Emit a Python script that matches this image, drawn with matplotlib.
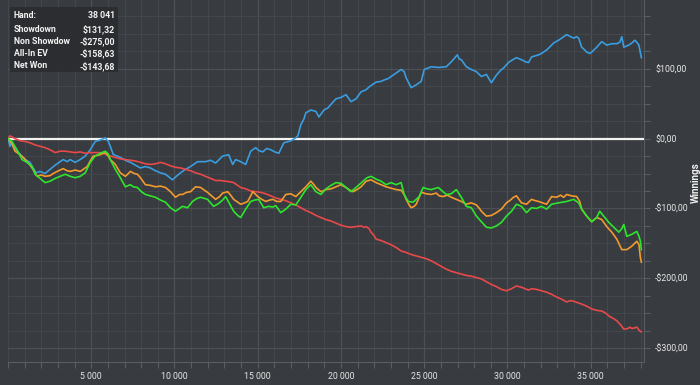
import numpy as np
import matplotlib
matplotlib.use("Agg")
import matplotlib.pyplot as plt
from matplotlib.ticker import FixedLocator, MultipleLocator, FuncFormatter
from matplotlib.patches import Rectangle

plt.rcParams['font.family'] = ['Roboto', 'DejaVu Sans']

# (hands, dollars)
showdown = [
    (0, 0), (120, -11), (241, -5), (422, -15), (723, -22), (1024, -30), (1325, -34), (1506, -42),
    (1687, -49), (1928, -47), (2229, -50), (2530, -44), (2831, -38), (3132, -33), (3313, -30),
    (3554, -33), (3735, -30), (4036, -34), (4337, -30), (4638, -25), (4940, -16), (5241, -4),
    (5542, -2), (5843, 1), (6024, -4), (6144, -11), (6325, -23), (6566, -25), (6747, -27),
    (7048, -31), (7349, -34), (7650, -38), (7952, -42), (8253, -40), (8554, -42), (8855, -46),
    (9156, -49), (9458, -51), (9879, -59), (10060, -55), (10361, -49), (10662, -44), (10964, -40),
    (11385, -33), (11867, -33), (12168, -31), (12470, -35), (12891, -25), (13253, -23),
    (13494, -37), (13675, -30), (13976, -33), (14277, -37), (14578, -18), (14879, -13),
    (15060, -17), (15301, -19), (15542, -14), (15783, -16), (16024, -19), (16265, -21),
    (16566, -6), (16867, -4), (16987, -3), (17289, 1), (17409, 4), (17590, 20), (17771, 28),
    (17891, 37), (18192, 41), (18494, 39), (18674, 31), (18976, 41), (19217, 44), (19397, 49),
    (19698, 57), (20000, 59), (20301, 63), (20602, 53), (20903, 57), (21204, 67), (21506, 70),
    (21686, 74), (21927, 78), (22108, 81), (22409, 82), (22590, 84), (22831, 86), (23011, 89),
    (23313, 94), (23614, 99), (23795, 96), (23915, 87), (24216, 73), (24518, 77), (24819, 82),
    (25000, 99), (25421, 103), (25843, 102), (26324, 103), (26625, 110), (26987, 120),
    (27108, 114), (27228, 113), (27529, 103), (27831, 99), (28132, 96), (28433, 89), (28734, 92),
    (29035, 80), (29336, 91), (29638, 99), (29758, 101), (30060, 109), (30240, 112), (30541, 116),
    (30843, 113), (31084, 110), (31264, 109), (31445, 117), (31866, 120), (32048, 122),
    (32349, 127), (32530, 131), (32771, 137), (33072, 141), (33313, 145), (33554, 149),
    (33795, 146), (33976, 144), (34156, 146), (34276, 144), (34457, 131), (34638, 127),
    (34758, 124), (34939, 122), (35060, 124), (35361, 131), (35662, 139), (35963, 134),
    (36264, 136), (36566, 136), (36746, 138), (36867, 146), (36987, 131), (37288, 134),
    (37469, 137), (37650, 141), (37770, 138), (37891, 134), (37980, 123), (38041, 116),
]

non_showdown = [
    (0, 0), (120, 4), (422, 0), (723, -3), (1024, -4), (1325, -6), (1626, -9), (1928, -11),
    (2229, -13), (2530, -16), (2831, -20), (3132, -18), (3434, -18), (3735, -19), (4036, -20),
    (4337, -19), (4638, -21), (4940, -20), (5241, -20), (5542, -20), (5843, -22), (6144, -25),
    (6446, -27), (6747, -29), (7048, -30), (7349, -31), (7650, -32), (7952, -34), (8253, -36),
    (8554, -37), (8855, -36), (9156, -34), (9458, -36), (9759, -39), (10060, -41), (10361, -42),
    (10662, -44), (10964, -46), (11265, -49), (11566, -51), (11867, -54), (12168, -57),
    (12470, -60), (12771, -60), (13072, -61), (13373, -62), (13554, -63), (13735, -66),
    (13976, -70), (14277, -72), (14578, -75), (14879, -76), (15180, -77), (15482, -79),
    (15783, -82), (16084, -85), (16385, -87), (16686, -89), (16987, -92), (17289, -95),
    (17590, -99), (17891, -103), (18192, -106), (18494, -110), (18795, -113), (19096, -116),
    (19397, -118), (19698, -121), (20000, -124), (20301, -126), (20602, -127), (20903, -126),
    (21204, -125), (21385, -127), (21506, -126), (21686, -129), (21807, -134), (21988, -139),
    (22108, -144), (22409, -146), (22710, -149), (23011, -152), (23313, -156), (23614, -161),
    (23915, -163), (24216, -166), (24518, -168), (24819, -170), (25120, -172), (25421, -175),
    (25722, -179), (26023, -183), (26324, -187), (26625, -190), (26926, -192), (27228, -194),
    (27529, -196), (27831, -197), (28132, -199), (28433, -201), (28734, -205), (29035, -209),
    (29336, -212), (29638, -216), (29939, -218), (30240, -215), (30541, -211), (30843, -213),
    (31264, -217), (31445, -215), (31746, -216), (32048, -218), (32349, -220), (32650, -223),
    (32951, -227), (33253, -230), (33554, -234), (33795, -232), (33976, -233), (34216, -235),
    (34457, -237), (34758, -240), (35060, -244), (35361, -246), (35662, -247), (35903, -250),
    (36084, -254), (36385, -258), (36566, -261), (36807, -267), (36987, -273), (37228, -272),
    (37349, -270), (37469, -272), (37650, -271), (37770, -270), (37920, -275), (38041, -277),
]

allin_ev = [
    (0, 0), (241, -8), (422, -18), (723, -23), (964, -28), (1145, -33), (1325, -38), (1506, -44),
    (1747, -54), (1988, -52), (2229, -54), (2530, -53), (2711, -50), (2952, -47), (3132, -45),
    (3313, -43), (3554, -46), (3735, -47), (4036, -45), (4337, -47), (4578, -43), (4759, -40),
    (4940, -32), (5120, -25), (5361, -24), (5542, -23), (5723, -21), (5843, -20), (6024, -25),
    (6144, -30), (6325, -34), (6446, -37), (6626, -44), (6747, -49), (7048, -54), (7229, -50),
    (7349, -47), (7590, -50), (7771, -51), (7952, -56), (8253, -66), (8554, -67), (8855, -69),
    (9156, -68), (9458, -70), (9759, -76), (10060, -84), (10301, -80), (10482, -80),
    (10723, -77), (10964, -76), (11265, -69), (11566, -70), (11807, -74), (11988, -77),
    (12229, -82), (12470, -87), (12711, -83), (12891, -78), (13193, -76), (13373, -81),
    (13554, -87), (13795, -91), (13976, -94), (14217, -92), (14397, -90), (14578, -82),
    (14699, -76), (14879, -80), (15000, -83), (15241, -87), (15482, -90), (15723, -88),
    (15903, -87), (16144, -90), (16385, -90), (16686, -80), (16987, -79), (17289, -83),
    (17590, -76), (17891, -69), (18072, -64), (18192, -61), (18373, -66), (18494, -70),
    (18795, -76), (19096, -73), (19397, -72), (19698, -69), (20000, -66), (20301, -70),
    (20482, -73), (20722, -76), (20963, -73), (21204, -69), (21506, -61), (21807, -59),
    (22108, -63), (22409, -66), (22710, -69), (23011, -71), (23313, -73), (23614, -74),
    (23795, -80), (23915, -87), (24096, -95), (24216, -99), (24397, -97), (24518, -94),
    (24819, -77), (25120, -79), (25421, -80), (25722, -78), (25903, -82), (26144, -83),
    (26385, -81), (26625, -84), (26926, -87), (27228, -90), (27529, -94), (27831, -92),
    (28132, -95), (28313, -100), (28433, -104), (28734, -111), (29035, -110), (29336, -106),
    (29638, -101), (29939, -92), (30180, -88), (30361, -84), (30541, -82), (30843, -92),
    (31144, -94), (31445, -87), (31686, -89), (31866, -90), (32108, -92), (32349, -94),
    (32650, -83), (32951, -84), (33192, -81), (33373, -84), (33554, -80), (33855, -82),
    (34156, -83), (34337, -90), (34457, -101), (34758, -111), (35060, -119), (35361, -113),
    (35662, -116), (35963, -126), (36264, -134), (36566, -144), (36867, -159), (37168, -159),
    (37469, -154), (37770, -147), (37900, -152), (37980, -170), (38041, -177),
]

net_won = [
    (0, 0), (241, -4), (542, -16), (843, -30), (1145, -34), (1446, -40), (1626, -51), (1928, -57),
    (2229, -63), (2530, -61), (2831, -57), (3132, -54), (3434, -51), (3735, -54), (4036, -56),
    (4337, -54), (4638, -49), (4940, -34), (5241, -25), (5542, -21), (5843, -18), (6024, -22),
    (6144, -30), (6446, -44), (6747, -56), (7048, -69), (7349, -66), (7530, -69), (7771, -70),
    (8012, -76), (8253, -80), (8554, -82), (8855, -84), (9156, -88), (9458, -91), (9759, -99),
    (10060, -104), (10301, -100), (10482, -97), (10783, -99), (11084, -90), (11325, -86),
    (11566, -84), (11988, -87), (12349, -97), (12650, -93), (12891, -88), (13072, -83),
    (13373, -96), (13554, -104), (13795, -110), (13976, -113), (14277, -101), (14578, -90),
    (14819, -88), (15060, -87), (15361, -99), (15662, -97), (15903, -98), (16084, -96),
    (16385, -106), (16686, -101), (16987, -94), (17289, -95), (17590, -84), (17891, -73),
    (18192, -66), (18494, -76), (18795, -80), (19096, -72), (19397, -67), (19698, -63),
    (20000, -64), (20301, -70), (20602, -76), (20903, -70), (21325, -61), (21566, -56),
    (21807, -54), (22108, -58), (22409, -61), (22710, -66), (23011, -63), (23313, -66),
    (23614, -63), (23795, -80), (24036, -90), (24337, -91), (24698, -83), (24939, -70),
    (25180, -72), (25421, -73), (25843, -70), (26324, -80), (26625, -79), (26926, -73),
    (27228, -84), (27529, -97), (27831, -99), (28132, -111), (28433, -119), (28734, -127),
    (29035, -128), (29336, -125), (29638, -120), (29939, -111), (30240, -104), (30541, -94),
    (30843, -97), (31144, -106), (31445, -99), (31746, -100), (32048, -97), (32349, -101),
    (32650, -94), (33072, -92), (33554, -90), (33976, -87), (34276, -92), (34457, -101),
    (34758, -111), (35060, -119), (35361, -113), (35542, -104), (35782, -111), (36084, -120),
    (36385, -127), (36686, -134), (36867, -129), (36987, -123), (37168, -140), (37469, -137),
    (37770, -133), (37900, -140), (37980, -147), (38041, -159),
]

legend_labels = ["Hand:", "Showdown", "Non Showdow", "All-In EV", "Net Won"]
legend_values = ["38 041", "$131,32", "-$275,00", "-$158,63", "-$143,68"]

bg = '#383b3f'
fig = plt.figure(figsize=(7, 3.85), dpi=100, facecolor=bg)
ax = fig.add_axes([8 / 700, 23 / 385, 636 / 700, 362 / 385], facecolor=bg)

series = [
    (showdown, '#3a9de0'),
    (non_showdown, '#e8494a'),
    (allin_ev, '#f39a2e'),
    (net_won, '#2ee52e'),
]
ax.axhline(0, color='#f2f2f2', lw=1.6, zorder=3)
for data, color in series:
    h, v = np.array(data).T
    ax.plot(h, v, color=color, lw=1.2, zorder=4)

ax.set_xlim(0, 38200)
ax.set_ylim(-320, 198.6)

ax.xaxis.set_major_locator(FixedLocator(range(5000, 38000, 5000)))
ax.xaxis.set_minor_locator(MultipleLocator(1000))
ax.xaxis.set_major_formatter(FuncFormatter(lambda v, p: f"{int(v):,}".replace(",", " ")))

ax.yaxis.tick_right()
ax.yaxis.set_major_locator(MultipleLocator(100))
ax.yaxis.set_minor_locator(MultipleLocator(25))


def money(v, p):
    s = f"{abs(v):.2f}".replace(".", ",")
    return ("-$" if v < 0 else "$") + s


ax.yaxis.set_major_formatter(FuncFormatter(money))

ax.grid(which='major', color='#4d5055', lw=0.9)
ax.grid(which='minor', color='#43464a', lw=0.8)
ax.set_axisbelow(True)

ax.tick_params(which='both', colors='#5a5d62', labelcolor='#e6e6e6', labelsize=6.3, length=4, width=0.8)
ax.tick_params(axis='y', which='both', pad=4)
ax.tick_params(axis='x', which='both', pad=3)
for side in ['top', 'left']:
    ax.spines[side].set_visible(False)
for side in ['bottom', 'right']:
    ax.spines[side].set_color('#5a5d62')

fig.text(696 / 700, 1 - 183 / 385, "Winnings", rotation=90, ha='center', va='center',
         color='#f0f0f0', fontsize=7, fontweight='bold')

# stats box in the top-left corner
fig.patches.append(Rectangle((10 / 700, 1 - 72 / 385), 108 / 700, 65 / 385,
                             transform=fig.transFigure, facecolor='#2a2c2f', alpha=0.9,
                             edgecolor='none', zorder=5))
row_y = [15.7, 29, 41.2, 53.4, 66]
for lab, val, y in zip(legend_labels, legend_values, row_y):
    fig.text(14 / 700, 1 - y / 385, lab, ha='left', va='center', color='#f2f2f2',
             fontsize=6.3, fontweight='bold', zorder=6)
    fig.text(115 / 700, 1 - y / 385, val, ha='right', va='center', color='#f2f2f2',
             fontsize=6.3, fontweight='bold', zorder=6)

fig.savefig("out.png", dpi=100, facecolor=bg)
